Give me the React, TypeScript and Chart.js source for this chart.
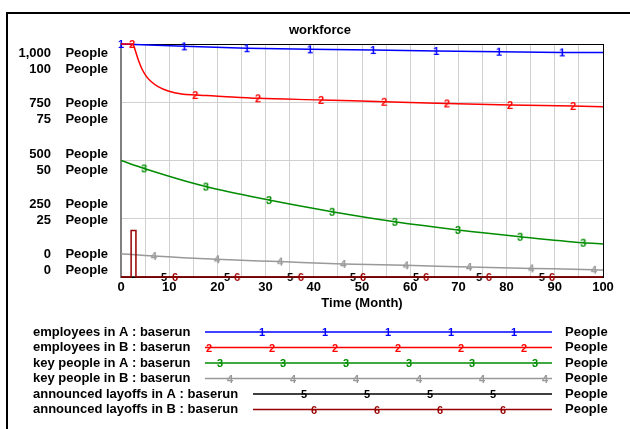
import React, { useEffect, useRef } from 'react';
import { Chart, registerables } from 'chart.js';

Chart.register(...registerables);

const FONT = "'Liberation Sans', Arial, Helvetica, sans-serif";

// ---- text ----
const TITLE = 'workforce';
const X_TITLE = 'Time (Month)';
const UNIT = 'People';
const SERIES_LABELS = [
  'employees in A : baserun',
  'employees in B : baserun',
  'key people in A : baserun',
  'key people in B : baserun',
  'announced layoffs in A : baserun',
  'announced layoffs in B : baserun',
];
const SERIES_MARKS = ['1', '2', '3', '4', '5', '6'];
const Y_TICK_LABELS = [
  ['0    People', '0    People'],
  ['250    People', '25    People'],
  ['500    People', '50    People'],
  ['750    People', '75    People'],
  ['1,000    People', '100    People'],
];
const X_TICKS = [0, 5, 10, 15, 20, 25, 30, 35, 40, 45, 50, 55, 60, 65, 70, 75, 80, 85, 90, 95, 100];
const Y_TICKS = [0, 250, 500, 750, 1000];

// ---- data (time in months) ----
const t1 = [0, 13.1, 26.1, 39.2, 52.3, 65.4, 78.4, 91.5, 100];
const employeesA = [1000, 990, 982, 977, 974, 970, 967, 964, 963];
const marks1 = [0, 13.1, 26.1, 39.2, 52.3, 65.4, 78.4, 91.5];

const t2 = [0, 2.3, 2.55, 3.05, 3.6, 4.3, 5.3, 6.3, 7.7, 9.8, 12.6, 15.4, 19.5, 28.4, 41.5, 54.6, 67.6, 80.7, 93.8, 100];
const employeesB = [1000, 1000, 996, 967, 931, 895, 860, 838, 817, 798, 785, 781, 777, 767, 760, 752, 745, 738, 734, 731];
const marks2 = [2.3, 15.4, 28.4, 41.5, 54.6, 67.6, 80.7, 93.8];

const t3 = [0, 4.8, 17.6, 30.7, 43.8, 56.8, 69.9, 82.8, 95.9, 100];
const keyPeopleA = [50, 46.6, 38.8, 33.0, 28.0, 23.7, 20.2, 17.3, 14.7, 14.2];
const marks3 = [4.8, 17.6, 30.7, 43.8, 56.8, 69.9, 82.8, 95.9];

const t4 = [0, 6.8, 19.9, 33.0, 46.1, 59.1, 72.2, 85.1, 98.1, 100];
const keyPeopleB = [10, 9.0, 7.6, 6.6, 5.6, 5.0, 4.3, 3.7, 3.1, 3.0];
const marks4 = [6.8, 19.9, 33.0, 46.1, 59.1, 72.2, 85.1, 98.1];

const t5 = [0, 8.9, 22.0, 35.1, 48.1, 61.2, 74.3, 87.3, 100];
const layoffsA = [0, 0, 0, 0, 0, 0, 0, 0, 0];
const marks5 = [8.9, 22.0, 35.1, 48.1, 61.2, 74.3, 87.3];

const t6 = [0, 2.1, 2.1, 3.1, 3.1, 11.2, 24.1, 37.3, 50.2, 63.3, 76.3, 89.4, 100];
const layoffsB = [0, 0, 200, 200, 0, 0, 0, 0, 0, 0, 0, 0, 0];
const marks6 = [11.2, 24.1, 37.3, 50.2, 63.3, 76.3, 89.4];

// ---- styles ----
const COLORS = ['#0000ff', '#ff0000', '#008c00', '#999999', '#000000', '#990000'];

function makeGlyph(ch: string, color: string) {
  const c = document.createElement('canvas');
  c.width = 10;
  c.height = 12;
  const g = c.getContext('2d')!;
  g.font = `bold 11px ${FONT}`;
  g.fillStyle = color;
  g.textAlign = 'center';
  g.textBaseline = 'alphabetic';
  g.fillText(ch, 5, 10);
  return c;
}

export default function App() {
  const ref = useRef<HTMLCanvasElement>(null);

  useEffect(() => {
    document.body.style.margin = '0';
    const canvas = ref.current!;
    const glyphs = SERIES_MARKS.map((m, i) => makeGlyph(m, COLORS[i]));

    const mk = (ts: number[], vs: number[], marks: number[], i: number, axis: string, smooth: boolean) => ({
      label: SERIES_LABELS[i],
      data: ts.map((t, k) => ({ x: t, y: vs[k] })),
      yAxisID: axis,
      borderColor: COLORS[i],
      backgroundColor: COLORS[i],
      borderWidth: 1.5,
      pointStyle: glyphs[i],
      pointRadius: (c: any) => (c.raw && marks.includes(c.raw.x) ? 4 : 0),
      pointHoverRadius: 0,
      cubicInterpolationMode: smooth ? 'monotone' : 'default',
      tension: 0,
      fill: false,
      clip: false,
      order: 6 - i,
    });

    const framePlugin = {
      id: 'frame',
      beforeDraw(chart: any) {
        const ctx = chart.ctx;
        ctx.save();
        ctx.fillStyle = '#ffffff';
        ctx.fillRect(0, 0, chart.width, chart.height);
        ctx.fillStyle = '#000000';
        ctx.fillRect(6, 12, chart.width - 6, 2);
        ctx.fillRect(6, 12, 2, chart.height - 12);
        ctx.font = `bold 13px ${FONT}`;
        ctx.textAlign = 'center';
        ctx.textBaseline = 'middle';
        ctx.fillText(TITLE, 320, 30);
        ctx.restore();
      },
      beforeDatasetsDraw(chart: any) {
        const { ctx, chartArea } = chart;
        ctx.save();
        ctx.strokeStyle = '#000000';
        ctx.lineWidth = 1;
        ctx.beginPath();
        ctx.moveTo(chartArea.left, Math.round(chartArea.top) + 0.5);
        ctx.lineTo(chartArea.right + 1, Math.round(chartArea.top) + 0.5);
        ctx.moveTo(Math.round(chartArea.right) + 0.5, chartArea.top);
        ctx.lineTo(Math.round(chartArea.right) + 0.5, chartArea.bottom);
        ctx.stroke();
        ctx.restore();
      },
      afterDraw(chart: any) {
        const ctx = chart.ctx;
        ctx.save();
        ctx.font = `bold 13px ${FONT}`;
        ctx.textBaseline = 'middle';
        ctx.textAlign = 'left';
        SERIES_LABELS.forEach((lab, i) => {
          const y = 332 + 15.5 * i;
          ctx.fillStyle = '#000000';
          ctx.fillText(lab, 33, y);
          const start = Math.round(33 + ctx.measureText(lab).width + 15);
          const end = 552;
          ctx.strokeStyle = COLORS[i];
          ctx.lineWidth = 1.5;
          ctx.beginPath();
          ctx.moveTo(start, y);
          ctx.lineTo(end, y);
          ctx.stroke();
          for (let k = 0; k < 8; k++) {
            const mx = 199 + 10.4 * i + 63 * k;
            if (mx >= start && mx <= end) ctx.drawImage(glyphs[i], Math.round(mx - 5), Math.round(y - 6));
          }
          ctx.fillStyle = '#000000';
          ctx.fillText(UNIT, 565, y);
        });
        ctx.restore();
      },
    };

    const chart = new Chart(canvas, {
      type: 'line',
      data: {
        datasets: [
          mk(t1, employeesA, marks1, 0, 'y', false),
          mk(t2, employeesB, marks2, 1, 'y', true),
          mk(t3, keyPeopleA, marks3, 2, 'y2', true),
          mk(t4, keyPeopleB, marks4, 3, 'y2', true),
          mk(t5, layoffsA, marks5, 4, 'y', false),
          mk(t6, layoffsB, marks6, 5, 'y', false),
        ] as any,
      },
      options: {
        responsive: false,
        devicePixelRatio: 1,
        animation: false,
        events: [],
        layout: { padding: { left: 0, right: 27, top: 44, bottom: 118 } },
        plugins: {
          legend: { display: false },
          tooltip: { enabled: false },
          title: { display: false },
        },
        scales: {
          x: {
            type: 'linear',
            min: 0,
            max: 100,
            afterBuildTicks: (s: any) => {
              s.ticks = X_TICKS.map((v) => ({ value: v }));
            },
            afterFit: (s: any) => {
              s.height = 34;
            },
            grid: { color: '#d0d0d0', drawTicks: false },
            border: { display: true, color: '#000000', width: 1 },
            ticks: {
              autoSkip: false,
              maxRotation: 0,
              padding: 3,
              color: '#000000',
              font: { family: FONT, size: 13, weight: 'bold' },
              callback: (v: any) => (Number(v) % 10 === 0 ? String(v) : ''),
            },
            title: {
              display: true,
              text: X_TITLE,
              color: '#000000',
              font: { family: FONT, size: 13, weight: 'bold' },
              padding: { top: 0, bottom: 0 },
            },
          },
          yl: {
            type: 'linear',
            position: 'left',
            weight: 1,
            min: -0.28,
            max: 4.34,
            afterBuildTicks: (s: any) => {
              s.ticks = Y_TICK_LABELS.map((_, i) => ({ value: i }));
            },
            afterFit: (s: any) => {
              s.width = 121;
            },
            grid: { display: false, drawTicks: false },
            border: { display: false },
            ticks: {
              padding: 13,
              color: '#000000',
              font: { family: FONT, size: 13, weight: 'bold', lineHeight: 16 / 13 },
              callback: (_v: any, i: number) => Y_TICK_LABELS[i],
            },
          },
          y: {
            type: 'linear',
            position: 'left',
            weight: 0,
            min: 0,
            max: 1000,
            afterBuildTicks: (s: any) => {
              s.ticks = Y_TICKS.map((v) => ({ value: v }));
            },
            afterFit: (s: any) => {
              s.width = 0;
            },
            grid: { color: '#d0d0d0', drawTicks: false },
            border: { display: true, color: '#808080', width: 2 },
            ticks: { display: false },
          },
          y2: {
            type: 'linear',
            position: 'left',
            display: false,
            min: 0,
            max: 100,
          },
        },
      } as any,
      plugins: [framePlugin],
    });

    return () => chart.destroy();
  }, []);

  return (
    <canvas
      ref={ref}
      width={630}
      height={429}
      style={{ display: 'block', width: 630, height: 429 }}
    />
  );
}
